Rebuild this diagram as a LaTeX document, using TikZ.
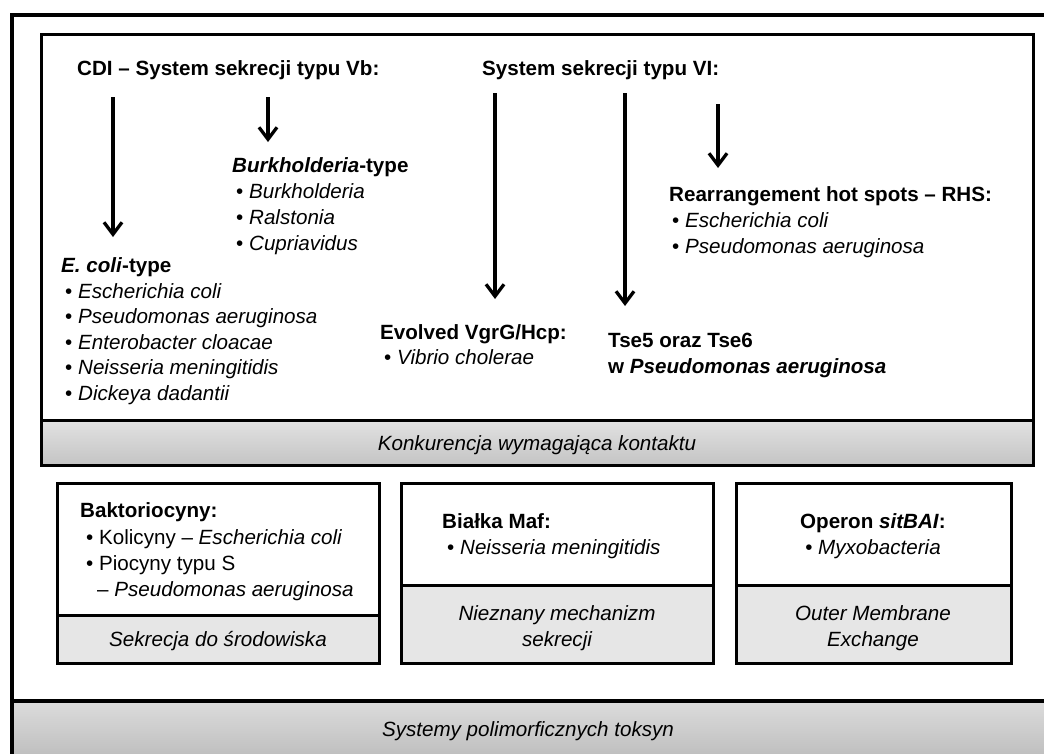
\documentclass[tikz,border=0pt]{standalone}
\usepackage{fontspec}
\setmainfont{Liberation Sans}
\usetikzlibrary{arrows.meta}
\definecolor{panelgray}{HTML}{E6E6E6}
\definecolor{barTop}{HTML}{E2E2E2}
\definecolor{barBot}{HTML}{C4C4C4}
\definecolor{baseTop}{HTML}{DCDCDC}
\definecolor{baseBot}{HTML}{B2B2B2}
\newcommand{\bodyfont}{\fontsize{20.6pt}{25.5pt}\selectfont}
\tikzset{
  txt/.style={inner sep=0pt, anchor=base west, font=\bodyfont},
  ctxt/.style={inner sep=0pt, anchor=base, font=\bodyfont},
  outerline/.style={draw=black, line width=3.6pt},
  boxline/.style={draw=black, line width=3pt},
  arr/.style={line width=3.3pt, -{Straight Barb[length=12pt, width=18pt, line width=3.3pt]}},
}
\begin{document}
\begin{tikzpicture}[x=1pt, y=-1pt]
\useasboundingbox (0,0) rectangle (1044,753);
\clip (0,0) rectangle (1044,753);

% ---- base band of the whole figure ----
\fill[top color=baseTop, bottom color=baseBot] (12,701) rectangle (1070,780);
\draw[outerline] (12,15) rectangle (1070,780);
\draw[outerline] (12,701) -- (1070,701);
\node[ctxt] (base) at (528,736) {\itshape Systemy polimorficznych toksyn};

% ---- contact-dependent competition panel ----
\fill[top color=barTop, bottom color=barBot] (41,420) rectangle (1033,465);
\draw[boxline] (41,34) rectangle (1033,465);
\draw[boxline] (41,420) -- (1033,420);
\node[ctxt] (konk) at (537,450) {\itshape Konkurencja wymagająca kontaktu};

\node[txt] (h1) at (77,75) {\bfseries CDI – System sekrecji typu Vb:};
\node[txt] (h2) at (482,75) {\bfseries System sekrecji typu VI:};

% Burkholderia-type
\node[txt] (bk0) at (232,172) {\bfseries\textit{Burkholderia}-type};
\node[txt] (bk1) at (236,198) {• \textit{Burkholderia}};
\node[txt] (bk2) at (236,224) {• \textit{Ralstonia}};
\node[txt] (bk3) at (236,250) {• \textit{Cupriavidus}};

% E. coli-type
\node[txt] (ec0) at (61,272) {\bfseries\textit{E. coli}-type};
\node[txt] (ec1) at (65,298) {• \textit{Escherichia coli}};
\node[txt] (ec2) at (65,323) {• \textit{Pseudomonas aeruginosa}};
\node[txt] (ec3) at (65,349) {• \textit{Enterobacter cloacae}};
\node[txt] (ec4) at (65,374) {• \textit{Neisseria meningitidis}};
\node[txt] (ec5) at (65,400) {• \textit{Dickeya dadantii}};

% Rearrangement hot spots
\node[txt] (rh0) at (669,201) {\bfseries Rearrangement hot spots – RHS:};
\node[txt] (rh1) at (672,227) {• \textit{Escherichia coli}};
\node[txt] (rh2) at (672,253) {• \textit{Pseudomonas aeruginosa}};

% Evolved VgrG/Hcp
\node[txt] (ev0) at (380,339) {\bfseries Evolved VgrG/Hcp:};
\node[txt] (ev1) at (384,364) {• \textit{Vibrio cholerae}};

% Tse5 / Tse6
\node[txt] (ts0) at (608,347) {\bfseries Tse5 oraz Tse6};
\node[txt] (ts1) at (608,373) {\bfseries w \textit{Pseudomonas aeruginosa}};

% arrows
\coordinate (a1s) at (113,97);  \coordinate (a1e) at (113,237);
\coordinate (a2s) at (268,97);  \coordinate (a2e) at (268,142);
\coordinate (a3s) at (495,93);  \coordinate (a3e) at (495,299);
\coordinate (a4s) at (625,93);  \coordinate (a4e) at (625,306);
\coordinate (a5s) at (718,104); \coordinate (a5e) at (718,168);
\draw[arr] (a1s) -- (a1e);
\draw[arr] (a2s) -- (a2e);
\draw[arr] (a3s) -- (a3e);
\draw[arr] (a4s) -- (a4e);
\draw[arr] (a5s) -- (a5e);

% ---- lower panels ----
% bacteriocins
\fill[panelgray] (57,615) rectangle (379,663);
\draw[boxline] (57,483) rectangle (379,663);
\draw[boxline] (57,615) -- (379,615);
\node[txt] (bc0) at (80,517) {\bfseries Baktoriocyny:};
\node[txt] (bc1) at (86,544) {• Kolicyny – \textit{Escherichia coli}};
\node[txt] (bc2) at (86,570) {• Piocyny typu S};
\node[txt] (bc3) at (97,596) {– \textit{Pseudomonas aeruginosa}};
\node[ctxt] (bc4) at (218,646) {\itshape Sekrecja do środowiska};

% Maf proteins
\fill[panelgray] (401,585) rectangle (713,663);
\draw[boxline] (401,483) rectangle (713,663);
\draw[boxline] (401,585) -- (713,585);
\node[txt] (mf0) at (442,528) {\bfseries Białka Maf:};
\node[txt] (mf1) at (447,554) {• \textit{Neisseria meningitidis}};
\node[ctxt] (mf2) at (557,620) {\itshape Nieznany mechanizm};
\node[ctxt] (mf3) at (557,646) {\itshape sekrecji};

% sitBAI operon
\fill[panelgray] (736,585) rectangle (1011,663);
\draw[boxline] (736,483) rectangle (1011,663);
\draw[boxline] (736,585) -- (1011,585);
\node[ctxt] (op0) at (873,528) {\bfseries Operon \textit{sitBAI}:};
\node[ctxt] (op1) at (873,554) {• \textit{Myxobacteria}};
\node[ctxt] (op2) at (873,620) {\itshape Outer Membrane};
\node[ctxt] (op3) at (873,646) {\itshape Exchange};
\end{tikzpicture}
\end{document}
